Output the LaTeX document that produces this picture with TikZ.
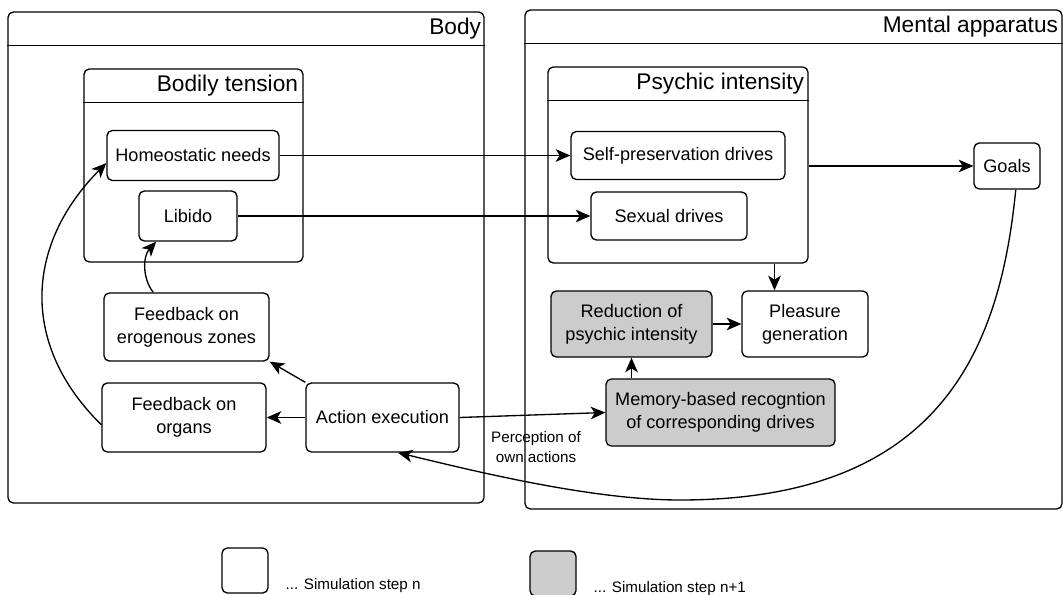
\documentclass[tikz,border=0pt]{standalone}
\usepackage{fontspec}
\setmainfont{Liberation Sans}
\usetikzlibrary{arrows.meta,calc}
\begin{document}
\begin{tikzpicture}[x=0.75pt,y=-0.75pt,line width=1pt,
  wh/.style 2 args={minimum width=#1*0.75pt, minimum height=#2*0.75pt},
  box/.style={draw, rounded corners=4pt, align=center, inner sep=0pt,
    font=\fontsize{13.6}{17.25}\selectfont},
  stepn/.style={box, fill=white},
  stepnext/.style={box, fill=gray!40},
  container/.style={draw, rounded corners=4pt, inner sep=0pt},
  title/.style={anchor=east, inner sep=0pt, font=\fontsize{17}{20}\selectfont},
  lbl/.style={font=\fontsize{11.4}{15}\selectfont, align=center, inner sep=0pt},
  arr/.style={-{Stealth[length=11pt,width=9.5pt,inset=3pt]}},
]
\useasboundingbox (0,0) rectangle (1063,595);

% containers with header strips
\node[container, wh={476}{491}] (body) at (246,257.5) {};
\node[container, wh={537}{499}] (mental) at (793.5,259.5) {};
\node[container, wh={219}{193}] (bodily) at (193.5,165.5) {};
\node[container, wh={260}{196}] (psychic) at (678,165) {};
\foreach \c in {body,mental,bodily,psychic}
  \draw ($(\c.north west)+(0,34)$) -- ($(\c.north east)+(0,34)$);
\node[title] (bodyT) at ($(body.north east)+(-3,17)$) {Body};
\node[title] (mentalT) at ($(mental.north east)+(-4,17)$) {Mental apparatus};
\node[title] (bodilyT) at ($(bodily.north east)+(-5,17)$) {Bodily tension};
\node[title] (psychicT) at ($(psychic.north east)+(-4,17)$) {Psychic intensity};

% body side
\node[stepn, wh={172}{50}] (homeo) at (193,155.5) {Homeostatic needs};
\node[stepn, wh={98}{50}] (libido) at (188,216) {Libido};
\node[stepn, wh={165}{68}] (eroz) at (186.5,327) {Feedback on\\erogenous zones};
\node[stepn, wh={164}{69}] (organs) at (184,417.5) {Feedback on\\organs};
\node[stepn, wh={153}{69}] (action) at (382.5,417.5) {Action execution};

% mental side
\node[stepn, wh={214}{48}] (selfp) at (678,155.5) {Self-preservation drives};
\node[stepn, wh={156}{48}] (sexual) at (669,216) {Sexual drives};
\node[stepn, wh={66}{46}] (goals) at (1007,166) {Goals};
\node[stepnext, wh={161}{66}] (reduct) at (631.5,324) {Reduction of\\psychic intensity};
\node[stepn, wh={126}{66}] (pleasure) at (805,324) {Pleasure\\generation};
\node[stepnext, wh={229}{67}] (memory) at (720.5,412.5) {Memory-based recogntion\\of corresponding drives};

% connectors
\draw[arr] (homeo.east) -- (selfp.west);
\draw[arr] (libido.east) -- (sexual.west);
\draw[arr] (psychic.east |- goals.west) -- (goals.west);
\coordinate (pdrop) at (774.5,263);
\draw[arr] (psychic.south -| pdrop) -- (pleasure.north -| pdrop);
\draw[arr] (reduct.east) -- (pleasure.west);
\draw[arr] (memory.north -| reduct.south) -- (reduct.south);
\draw[arr] (action.east) -- (memory.west);
\draw[arr] (action.west) -- (organs.east);
\draw[arr] (action.north west) -- (eroz.south east);
\draw[arr] (organs.185) .. controls (20,345) and (25,245) .. (homeo.185);
\draw[arr] ($(eroz.north west)!0.3!(eroz.north east)$)
  .. controls (142,278) and (143,256) .. ($(libido.south west)!0.18!(libido.south east)$);
\draw[arr] ($(goals.south west)!0.63!(goals.south east)$)
  .. controls (1000,350) and (940,500) .. (680,500)
  .. controls (590,500) and (470,470) .. ($(action.south west)!0.6!(action.south east)$);
\node[lbl] (perc) at (536,447) {Perception of\\own actions};

% legend
\node[stepn, wh={46}{45}] (legn) at (245,570.5) {};
\node[lbl, anchor=west] (legnT) at (285,586) {... Simulation step n};
\node[stepnext, wh={46}{45}] (legnext) at (553,573.5) {};
\node[lbl, anchor=west] (legnextT) at (593,589) {... Simulation step n+1};
\end{tikzpicture}
\end{document}
